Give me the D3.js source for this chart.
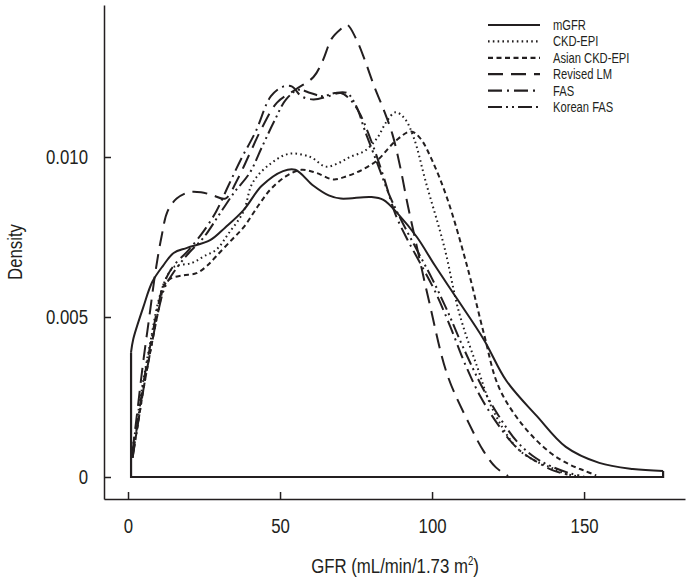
<!DOCTYPE html>
<html>
<head>
<meta charset="utf-8">
<script src="https://cdn.jsdelivr.net/npm/d3@7"></script>
<style>
  body { margin: 0; background: #fff; }
  text { font-family: 'Liberation Sans', Arial, sans-serif; fill: #231f20; }
</style>
</head>
<body>
<div id="chart"></div>
<script>
// GFR (x) and density (y) pairs
const mgfr = [[1,0.0039],[1.7,0.0043],[5,0.0053],[8,0.0061],[11.5,0.0066],[15,0.0070],[19.4,0.00716],[27,0.0074],[32,0.0078],[38,0.00834],[44,0.0091],[51,0.00956],[55,0.0096],[61,0.0091],[66,0.0088],[70,0.0087],[80,0.00875],[84,0.00866],[89,0.0082],[95,0.0075],[101,0.0066],[108,0.0056],[117,0.0043],[124.5,0.0030],[134.5,0.0019],[144,0.00094],[155,0.00044],[166,0.00025],[176,0.00019]];
const ckdEpi = [[1.5,0.0009],[3,0.0018],[5,0.0030],[7.5,0.0043],[10,0.0055],[12.5,0.0062],[15,0.00656],[21,0.00669],[25,0.0069],[29,0.0071],[33,0.0076],[38,0.0083],[41,0.0092],[47,0.0098],[53,0.0101],[60,0.0100],[65,0.0097],[69,0.0098],[73,0.0100],[78,0.0102],[82,0.0106],[85,0.0111],[88,0.0114],[91,0.0112],[94,0.0106],[98,0.0092],[104,0.0072],[109,0.0051],[115,0.0034],[120,0.0021],[128,0.0009],[134,0.0005],[139,0.0003],[144,0.0001],[148,0.00002]];
const asianCkdEpi = [[1.5,0.0007],[3,0.0015],[5,0.0027],[7.5,0.0040],[10,0.0052],[12,0.0060],[14,0.0062],[18,0.0063],[22.5,0.00637],[26,0.0066],[29,0.0069],[34,0.0074],[38,0.0078],[43,0.0085],[47,0.0090],[52,0.0094],[57,0.0096],[62,0.0095],[67.5,0.0093],[72,0.0094],[77,0.0096],[82,0.0099],[88,0.0105],[93,0.0108],[96,0.0106],[100,0.0099],[105,0.0087],[111.5,0.0066],[117,0.0045],[122,0.0028],[130,0.0016],[139,0.00075],[145,0.0004],[150,0.0002],[154,0.00005]];
const revisedLm = [[1.5,0.0008],[3,0.0020],[5,0.0036],[7,0.0050],[9,0.0064],[11,0.0075],[13,0.0083],[16,0.0087],[20,0.0089],[24,0.0089],[28,0.0088],[32,0.0087],[36,0.0093],[40,0.0101],[44,0.0109],[49,0.0117],[55,0.0121],[61,0.0125],[64,0.0130],[67,0.0137],[70,0.0140],[72,0.01413],[75,0.0137],[78,0.0130],[81,0.0122],[84,0.0115],[87,0.0107],[89.5,0.0097],[92,0.0085],[95,0.0072],[99,0.0055],[105,0.0032],[112,0.0017],[117,0.0008],[121,0.0003],[125,0.00003]];
const fas = [[1.5,0.0006],[3,0.0016],[5,0.0029],[7.5,0.0042],[10,0.0054],[12,0.0061],[15,0.0066],[20,0.0071],[25,0.0077],[29,0.0083],[33,0.0091],[37,0.0099],[42,0.0108],[47,0.0119],[51,0.0122],[54,0.0122],[57,0.0119],[61,0.0118],[66,0.0119],[70,0.0120],[73,0.0118],[76,0.0114],[80,0.0105],[84,0.0094],[88,0.0082],[92,0.0074],[96,0.0067],[101,0.0058],[106,0.0047],[111,0.0035],[116,0.0025],[122,0.0016],[128,0.0009],[134,0.0005],[140,0.0002],[146,0.00005]];
const koreanFas = [[1.5,0.0006],[3,0.0015],[5,0.0027],[7.5,0.0040],[10,0.0052],[12,0.0059],[15,0.0064],[20,0.0070],[25,0.0075],[30,0.0082],[35,0.0089],[40,0.0095],[44,0.0103],[48,0.0111],[52,0.0118],[56,0.0121],[60,0.0120],[64,0.0119],[68,0.0120],[72,0.0120],[75,0.0116],[78,0.0108],[82,0.0098],[86,0.0088],[90,0.0080],[95,0.0071],[100,0.0062],[105,0.0052],[110,0.0041],[116,0.0029],[122,0.0019],[128,0.0011],[134,0.0006],[140,0.0003],[146,0.0001],[150,0.00002]];

const seriesNames = ["mGFR", "CKD-EPI", "Asian CKD-EPI", "Revised LM", "FAS", "Korean FAS"];
const seriesData = [mgfr, ckdEpi, asianCkdEpi, revisedLm, fas, koreanFas];
const xTicks = [0, 50, 100, 150];
const yTicks = [0, 0.005, 0.010];
const yTickLabels = ["0", "0.005", "0.010"];

const width = 687, height = 577;
const narrow = 0.8; // the figure uses a condensed face
const dashes = [null, "1.6,3.2", "5,3.5", "15,8", "14,5,2,5", "14,4,2,4,2,4"];

const svg = d3.select("#chart").append("svg")
  .attr("width", width)
  .attr("height", height);

const x = d3.scaleLinear().domain([-7.9, 183.2]).range([104, 685]);
const y = d3.scaleLinear().domain([-0.0006875, 0.01475]).range([499, 5]);

// axes
const xAxis = svg.append("g")
  .attr("transform", "translate(0,499)")
  .call(d3.axisBottom(x).tickValues(xTicks).tickSizeInner(-7).tickSizeOuter(0).tickPadding(19).tickFormat(d3.format("d")));
const yAxis = svg.append("g")
  .attr("transform", "translate(104,0)")
  .call(d3.axisLeft(y).tickValues(yTicks).tickSizeInner(-7).tickSizeOuter(0).tickPadding(16)
    .tickFormat((d, i) => yTickLabels[i]));
[xAxis, yAxis].forEach(g => {
  g.select(".domain").attr("stroke", "#231f20").attr("stroke-width", 1.5);
  g.selectAll(".tick line").attr("stroke", "#231f20").attr("stroke-width", 1.5);
  g.selectAll(".tick text")
    .attr("font-size", 21)
    .attr("fill", "#231f20")
    .attr("transform", `scale(${narrow},1)`)
    .style("font-family", "'Liberation Sans', Arial, sans-serif");
});
yAxis.selectAll(".tick text").attr("x", -16 / narrow);

// axis titles
svg.append("text")
  .attr("transform", `translate(22,252) rotate(-90) scale(${narrow},1)`)
  .attr("text-anchor", "middle")
  .attr("font-size", 21)
  .text("Density");

const xt = svg.append("text")
  .attr("transform", `translate(395,573) scale(${narrow},1)`)
  .attr("text-anchor", "middle")
  .attr("font-size", 21);
xt.append("tspan").text("GFR (mL/min/1.73 m");
xt.append("tspan").attr("font-size", 12).attr("dy", -8).text("2");
xt.append("tspan").attr("dy", 8).text(")");

// density curves
const line = d3.line()
  .x(d => x(d[0]))
  .y(d => y(d[1]))
  .curve(d3.curveCatmullRom.alpha(0.5));

seriesData.forEach((data, i) => {
  svg.append("path")
    .datum(data)
    .attr("fill", "none")
    .attr("stroke", "#231f20")
    .attr("stroke-width", 2)
    .attr("stroke-dasharray", dashes[i])
    .attr("d", line);
});

// mGFR frame: vertical ends and baseline
const first = mgfr[0], last = mgfr[mgfr.length - 1];
svg.append("path")
  .datum([first, [first[0], 0], [last[0], 0], last])
  .attr("fill", "none")
  .attr("stroke", "#231f20")
  .attr("stroke-width", 2.2)
  .attr("d", d3.line().x(d => x(d[0])).y(d => y(d[1])));

// legend
const legend = svg.append("g").attr("transform", "translate(488,25)");
seriesNames.forEach((name, i) => {
  const row = legend.append("g").attr("transform", `translate(0,${i * 16.4})`);
  row.append("line")
    .attr("x1", 0).attr("x2", 52)
    .attr("stroke", "#231f20")
    .attr("stroke-width", 2.2)
    .attr("stroke-dasharray", dashes[i]);
  row.append("text")
    .attr("transform", `translate(65,5) scale(${narrow},1)`)
    .attr("font-size", 14)
    .text(name);
});
</script>
</body>
</html>
